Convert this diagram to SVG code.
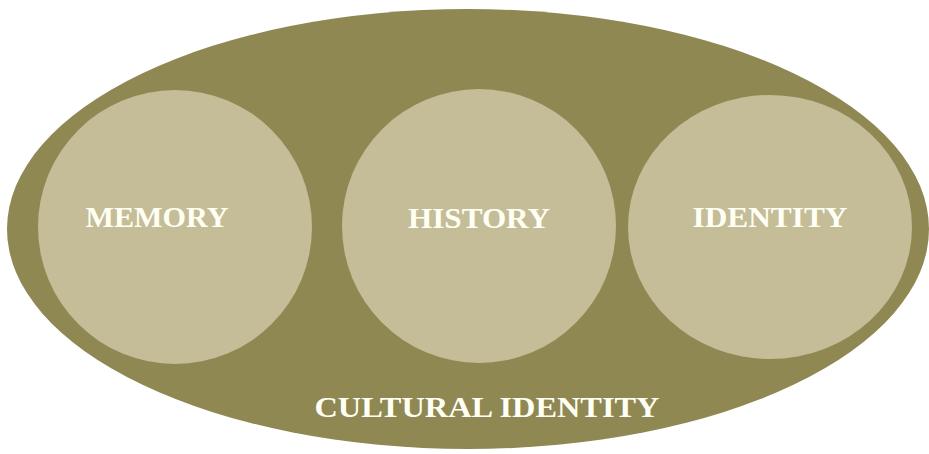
<svg xmlns="http://www.w3.org/2000/svg" width="929" height="454" viewBox="0 0 929 454">
<style>
.outer{fill:#8F8853}
.inner{fill:#C4BD98}
.lbl{font-family:"Liberation Serif","Times New Roman",serif;font-weight:bold;fill:#FFFFF4;text-anchor:middle}
</style>
<rect width="929" height="454" fill="#FFFFFF"/>
<g id="cultural-identity">
<ellipse class="outer" cx="468" cy="229" rx="461" ry="220"/>
<text class="lbl" x="487" y="417" font-size="30" textLength="345" lengthAdjust="spacingAndGlyphs">CULTURAL IDENTITY</text>
</g>
<g id="memory">
<ellipse class="inner" cx="175" cy="227" rx="137" ry="137"/>
<text class="lbl" x="157" y="227" font-size="30" textLength="143" lengthAdjust="spacingAndGlyphs">MEMORY</text>
</g>
<g id="history">
<ellipse class="inner" cx="479" cy="226" rx="137" ry="137"/>
<text class="lbl" x="479" y="228" font-size="30" textLength="142" lengthAdjust="spacingAndGlyphs">HISTORY</text>
</g>
<g id="identity">
<ellipse class="inner" cx="770" cy="227" rx="142" ry="132"/>
<text class="lbl" x="770" y="227" font-size="30" textLength="155" lengthAdjust="spacingAndGlyphs">IDENTITY</text>
</g>
<g id="connectors"></g>
</svg>
